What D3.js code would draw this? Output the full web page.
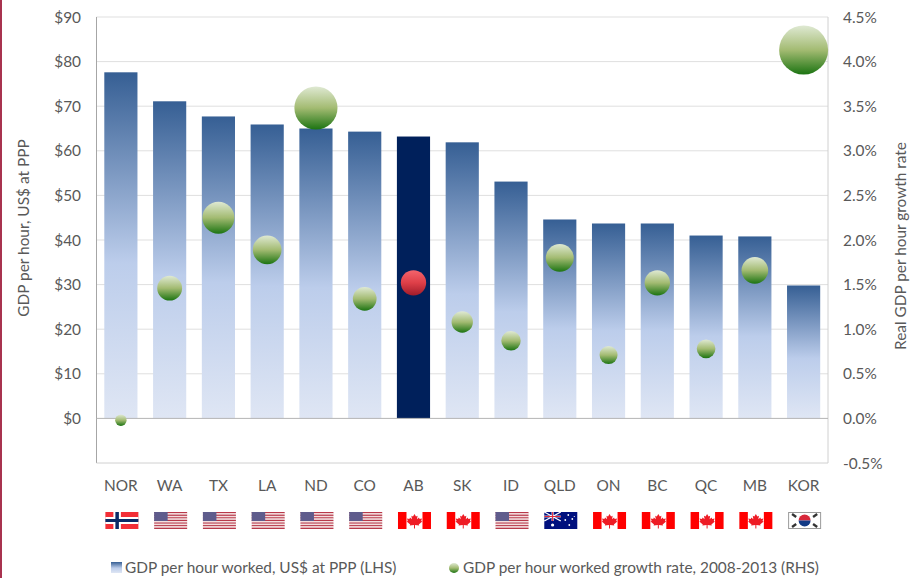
<!DOCTYPE html>
<html><head><meta charset="utf-8">
<script src="https://cdn.jsdelivr.net/npm/d3@7/dist/d3.min.js"></script>
<style>
html,body{margin:0;padding:0;background:#fff}
svg{display:block}
text{font-family:"Lato",sans-serif;fill:#595959}
</style></head><body><svg id="c" width="924" height="578"></svg>
<script>
const categories=["NOR","WA","TX","LA","ND","CO","AB","SK","ID","QLD","ON","BC","QC","MB","KOR"];
const flagCodes=["no","us","us","us","us","us","ca","ca","us","au","ca","ca","ca","ca","kr"];
const gdpPerHour=[77.6,71.1,67.7,65.9,65,64.3,63.2,61.9,53.1,44.6,43.7,43.7,41,40.8,29.8];
const growthRate=[-0.02,1.46,2.25,1.89,3.48,1.34,1.52,1.08,0.87,1.8,0.71,1.52,0.78,1.66,4.13];
const leftTicks=[0,10,20,30,40,50,60,70,80,90];
const rightTicks=[-0.5,0,0.5,1,1.5,2,2.5,3,3.5,4,4.5];
const highlighted="AB";
const legendLabels=["GDP per hour worked, US$ at PPP (LHS)","GDP per hour worked growth rate, 2008-2013 (RHS)"];
const axisTitles=["GDP per hour, US$ at PPP","Real GDP per hour growth rate"];

const svg=d3.select("#c");
const L=96.5,R=828,T=17,B=463;
const x=d3.scaleBand().domain(categories).range([L,R]).paddingInner(0.32).paddingOuter(0.16);
const yR=d3.scaleLinear().domain([-0.5,4.5]).range([B,T]);
const yL=d3.scaleLinear().domain([-10,90]).range([B,T]);
const rS=d3.scaleLinear().domain([0,4.13]).range([5.8,24.5]);

const defs=svg.append("defs");
function grad(id,stops){
  const g=defs.append("linearGradient").attr("id",id).attr("x1",0).attr("y1",0).attr("x2",0).attr("y2",1);
  stops.forEach(s=>g.append("stop").attr("offset",s[0]).attr("stop-color",s[1]));
}
grad("bar",[[0,"#365f94"],[0.55,"#bccdeb"],[1,"#dfe6f4"]]);
grad("ball",[[0,"#dfe9d3"],[0.5,"#a3bb72"],[1,"#1c7412"]]);
grad("red",[[0,"#f4646c"],[0.5,"#de3f48"],[1,"#a01c2a"]]);

svg.append("rect").attr("x",0).attr("y",0).attr("width",2).attr("height",578).attr("fill","#a8324f");

// gridlines
svg.append("g").selectAll("line").data(leftTicks.filter(d=>d>0)).join("line")
  .attr("x1",L).attr("x2",R).attr("y1",d=>yL(d)).attr("y2",d=>yL(d))
  .attr("stroke","#dfdfdf").attr("stroke-width",1);

// frame
svg.append("line").attr("x1",L).attr("x2",L).attr("y1",T).attr("y2",B).attr("stroke","#a6a6a6");
svg.append("line").attr("x1",R).attr("x2",R).attr("y1",T).attr("y2",B).attr("stroke","#d0d0d0");
svg.append("line").attr("x1",L).attr("x2",R).attr("y1",B).attr("y2",B).attr("stroke","#d0d0d0");

// bars
svg.append("g").selectAll("rect").data(categories).join("rect")
  .attr("x",d=>x(d)).attr("width",x.bandwidth())
  .attr("y",(d,i)=>yL(gdpPerHour[i])).attr("height",(d,i)=>yL(0)-yL(gdpPerHour[i]))
  .attr("fill",d=>d===highlighted?"#00205b":"url(#bar)");
svg.append("line").attr("x1",L).attr("x2",R).attr("y1",yL(0)).attr("y2",yL(0)).attr("stroke","#b5b5b5");

// bubbles
svg.append("g").selectAll("circle").data(categories).join("circle")
  .attr("cx",d=>x(d)+x.bandwidth()/2).attr("cy",(d,i)=>yR(growthRate[i]))
  .attr("r",(d,i)=>rS(growthRate[i]))
  .attr("fill",d=>d===highlighted?"url(#red)":"url(#ball)");

// axes text
const fs=15.4;
svg.append("g").selectAll("text").data(leftTicks).join("text")
  .attr("x",81).attr("y",d=>yL(d)+5.5).attr("text-anchor","end").attr("font-size",fs).text(d=>"$"+d);
svg.append("g").selectAll("text").data(rightTicks).join("text")
  .attr("x",843).attr("y",d=>yR(d)+5.5).attr("font-size",fs).text(d=>d.toFixed(1)+"%");
svg.append("g").selectAll("text").data(categories).join("text")
  .attr("x",d=>x(d)+x.bandwidth()/2).attr("y",491).attr("text-anchor","middle").attr("font-size",fs).text(d=>d);
svg.append("text").attr("transform","translate(29,228) rotate(-90)").attr("text-anchor","middle").attr("font-size",fs).text(axisTitles[0]);
svg.append("text").attr("transform","translate(906,246) rotate(-90)").attr("text-anchor","middle").attr("font-size",fs).text(axisTitles[1]);

// flags
const fw=33,fh=17,fy=512;
function flag(g,code){
  const r=(a,b,w,h,c)=>g.append("rect").attr("x",a).attr("y",b).attr("width",w).attr("height",h).attr("fill",c);
  if(code==="no"){
    r(0,0,fw,fh,"#f32e36");r(8,0,7.5,fh,"#fff");r(0,5,fw,7,"#fff");r(10,0,3.5,fh,"#0a2a66");r(0,7,fw,3,"#0a2a66");
  }else if(code==="us"){
    d3.range(13).forEach(i=>r(0,i*fh/13,fw,fh/13,i%2?"#f3dede":"#b8394a"));
    r(0,0,13.5,9,"#5f5c8c");
  }else if(code==="ca"){
    r(0,0,fw,fh,"#fff");r(0,0,8.5,fh,"#f00");r(fw-8.5,0,8.5,fh,"#f00");
    g.append("path").attr("fill","#ee1c25").attr("d","M16.5 2 L18 4.6 L19.6 3.8 L19 7.2 L21 5.6 L21.6 7 L24 6.6 L23.2 9 L24.3 9.6 L20.8 12.4 L21.2 13.6 L17 13.1 L17 16.5 L16 16.5 L16 13.1 L11.8 13.6 L12.2 12.4 L8.7 9.6 L9.8 9 L9 6.6 L11.4 7 L12 5.6 L14 7.2 L13.4 3.8 L15 4.6 Z");
  }else if(code==="au"){
    r(0,0,fw,fh,"#00107e");
    r(0,3.6,16.5,1.8,"#fff");r(7.3,0,2,9,"#fff");
    g.append("path").attr("stroke","#fff").attr("stroke-width",1.4).attr("d","M0 0L16.5 9M16.5 0L0 9");
    r(0,4,16.5,1,"#e0273a");r(7.8,0,1,9,"#e0273a");
    [[8.3,13,1.6],[24,3,.9],[28,7,.9],[21,8,.9],[25,13,.9],[30,4.5,.6]].forEach(s=>g.append("circle").attr("cx",s[0]).attr("cy",s[1]).attr("r",s[2]).attr("fill","#fff"));
  }else if(code==="kr"){
    g.append("rect").attr("x",.5).attr("y",.5).attr("width",fw-1).attr("height",fh-1).attr("fill","#fff").attr("stroke","#9a9a9a");
    g.append("path").attr("fill","#d8283a").attr("d","M10.5 8.5 A6 6 0 0 1 22.5 8.5 Z");
    g.append("path").attr("fill","#123a86").attr("d","M10.5 8.5 A6 6 0 0 0 22.5 8.5 Z");
    [[6,3.5,35],[27,3.5,-35],[6,13.5,-35],[27,13.5,35]].forEach(s=>g.append("rect").attr("x",-2.5).attr("y",-1.2).attr("width",5).attr("height",2.4).attr("fill","#333").attr("transform",`translate(${s[0]},${s[1]}) rotate(${s[2]})`));
  }
}
categories.forEach((c,i)=>{
  const g=svg.append("g").attr("transform",`translate(${x(c)+x.bandwidth()/2-fw/2+1},${fy})`);
  flag(g,flagCodes[i]);
});

// legend
svg.append("rect").attr("x",111).attr("y",562).attr("width",11).attr("height",11).attr("fill","url(#bar)");
svg.append("text").attr("x",125).attr("y",573).attr("font-size",fs).text(legendLabels[0]);
svg.append("circle").attr("cx",454).attr("cy",568).attr("r",5).attr("fill","url(#ball)");
svg.append("text").attr("x",463).attr("y",573).attr("font-size",fs).text(legendLabels[1]);
</script></body></html>
